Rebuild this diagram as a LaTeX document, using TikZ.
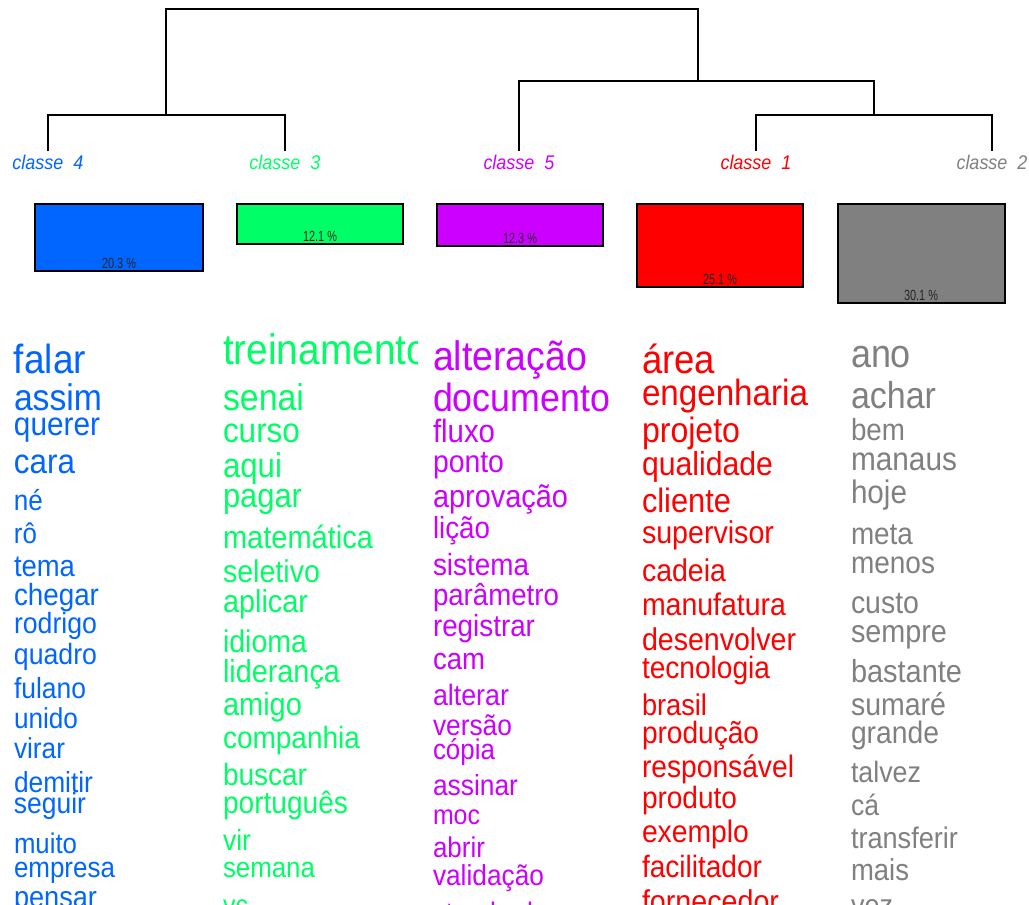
\documentclass[tikz,border=0pt]{standalone}
\usepackage{fontspec}
\setmainfont{Liberation Sans}
\usepackage{graphicx}
\definecolor{cfour}{HTML}{0066FF}
\definecolor{cthree}{HTML}{00FF66}
\definecolor{cfive}{HTML}{CC00FF}
\definecolor{cone}{HTML}{FF0000}
\definecolor{ctwo}{HTML}{808080}
\newcommand{\wrd}[2]{\scalebox{1}[1.1]{\resizebox{#1pt}{!}{#2}}}
\newcommand{\pctxt}[1]{\scalebox{1}[1.35]{\resizebox{34pt}{!}{#1}}}
\tikzset{
  word/.style={anchor=base west, inner sep=0pt, outer sep=0pt},
  tree/.style={line width=1.5pt, draw=black},
  bar/.style={draw=black, line width=1.6pt},
  pct/.style={anchor=base, inner sep=0pt, text=black!85},
  clab/.style={anchor=base, inner sep=0pt, font=\itshape}
}
\begin{document}
\begin{tikzpicture}[x=1pt,y=-1pt]
\useasboundingbox (0,0) rectangle (1029,905);
\clip (0,0) rectangle (1029,905);
\fill[white] (0,0) rectangle (1029,905);
% dendrogram
\coordinate (l4) at (48,151);
\coordinate (l3) at (285,151);
\coordinate (l5) at (519,151);
\coordinate (l1) at (756,151);
\coordinate (l2) at (992,151);
\coordinate (n43) at (166,115);
\coordinate (n12) at (874,115);
\coordinate (n512) at (698,81);
\coordinate (top) at (432,9);
\draw[tree] (l4) |- (n43) -| (l3);
\draw[tree] (l1) |- (n12) -| (l2);
\draw[tree] (l5) |- (n512) -| (n12);
\draw[tree] (n43) |- (top) -| (n512);
% class labels
\node[clab, text=cfour]  (k4) at (48,169)  {\scalebox{1}[1.1]{\resizebox{71pt}{!}{classe\ \ 4}}};
\node[clab, text=cthree] (k3) at (285,169) {\scalebox{1}[1.1]{\resizebox{71pt}{!}{classe\ \ 3}}};
\node[clab, text=cfive]  (k5) at (519,169) {\scalebox{1}[1.1]{\resizebox{71pt}{!}{classe\ \ 5}}};
\node[clab, text=cone]   (k1) at (756,169) {\scalebox{1}[1.1]{\resizebox{71pt}{!}{classe\ \ 1}}};
\node[clab, text=ctwo]   (k2) at (992,169) {\scalebox{1}[1.1]{\resizebox{71pt}{!}{classe\ \ 2}}};
% bars
\draw[bar, fill=cfour]  (35,204) rectangle (203,271);
\draw[bar, fill=cthree] (237,204) rectangle (403,244);
\draw[bar, fill=cfive]  (437,204) rectangle (603,246);
\draw[bar, fill=cone]   (637,204) rectangle (803,287);
\draw[bar, fill=ctwo]   (838,204) rectangle (1005,303);
\node[pct] (p4) at (119,268.3) {\pctxt{20.3 \%}};
\node[pct] (p3) at (320,241.5) {\pctxt{12.1 \%}};
\node[pct] (p5) at (520,243.5) {\pctxt{12.3 \%}};
\node[pct] (p1) at (720,284.5) {\pctxt{25.1 \%}};
\node[pct] (p2) at (921,300.5) {\pctxt{30.1 \%}};
% classe 4 words
\foreach \wy/\wl/\wt [count=\i] in {373/72/falar, 410/88/assim, 435/86/querer, 473/61/cara, 510/29/né, 543/23/rô, 576/61/tema, 605/85/chegar, 633/83/rodrigo, 664/83/quadro, 698/72/fulano, 728/64/unido, 758/51/virar, 792/79/demitir, 813/72/seguir, 853/63/muito, 877/101/empresa, 907/83/pensar}
  \node[word, text=cfour] (a\i) at (14,\wy) {\wrd{\wl}{\wt}};
% classe 3 words
\begin{scope}
\clip (0,330) rectangle (417,905);
\foreach \wy/\wl/\wt [count=\i] in {364/205/treinamento, 410/81/senai, 442/77/curso, 477/59/aqui, 507/79/pagar, 548/150/matemática, 582/97/seletivo, 612/85/aplicar, 652/84/idioma, 682/117/liderança, 715/79/amigo, 748/137/companhia, 785/84/buscar, 813/125/português, 850/28/vir, 877/92/semana, 914/25/vc}
  \node[word, text=cthree] (b\i) at (223,\wy) {\wrd{\wl}{\wt}};
\end{scope}
% classe 5 words
\foreach \wy/\wl/\wt [count=\i] in {370/154/alteração, 411/177/documento, 442/62/fluxo, 472/71/ponto, 507/135/aprovação, 538/57/lição, 575/96/sistema, 605/126/parâmetro, 636/102/registrar, 669/52/cam, 705/76/alterar, 735/79/versão, 759/62/cópia, 795/85/assinar, 824/47/moc, 857/52/abrir, 885/111/validação, 922/100/standard}
  \node[word, text=cfive] (c\i) at (433,\wy) {\wrd{\wl}{\wt}};
% classe 1 words
\foreach \wy/\wl/\wt [count=\i] in {373/73/área, 405/166/engenharia, 442/98/projeto, 475/131/qualidade, 512/89/cliente, 543/132/supervisor, 581/84/cadeia, 615/144/manufatura, 650/154/desenvolver, 678/128/tecnologia, 715/65/brasil, 743/117/produção, 777/152/responsável, 808/95/produto, 842/107/exemplo, 877/120/facilitador, 912/137/fornecedor}
  \node[word, text=cone] (d\i) at (642,\wy) {\wrd{\wl}{\wt}};
% classe 2 words
\foreach \wy/\wl/\wt [count=\i] in {367/60/ano, 408/85/achar, 440/54/bem, 470/106/manaus, 503/56/hoje, 544/62/meta, 573/84/menos, 613/68/custo, 642/96/sempre, 682/111/bastante, 715/95/sumaré, 743/88/grande, 782/70/talvez, 815/28/cá, 848/107/transferir, 880/58/mais, 915/42/vez}
  \node[word, text=ctwo] (e\i) at (851,\wy) {\wrd{\wl}{\wt}};
\end{tikzpicture}
\end{document}
